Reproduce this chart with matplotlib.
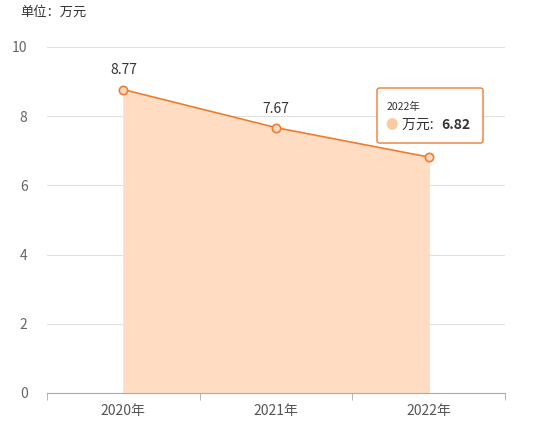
import matplotlib
matplotlib.use("Agg")
import matplotlib.pyplot as plt
from matplotlib.patches import FancyBboxPatch

plt.rcParams['font.family'] = ['Noto Sans CJK SC', 'DejaVu Sans']

categories = ["2020年", "2021年", "2022年"]
values = [8.77, 7.67, 6.82]
yticks = [0, 2, 4, 6, 8, 10]

fig = plt.figure(figsize=(5.37, 4.38), dpi=100)
ax = fig.add_axes([47/537, 45/438, 458/537, 346/438])
x = list(range(len(categories)))
ax.fill_between(x, values, 0, color="#ffdcc2", zorder=2)
ax.plot(x, values, color="#ee7d2f", lw=1.2, zorder=3,
        marker="o", ms=6, mfc="#ffd9bf", mec="#ee7d2f", mew=1.2)
for xi, v in zip(x, values):
    ax.text(xi, v + 0.35, f"{v:.2f}", ha="center", va="bottom", fontsize=10, color="#333333", zorder=4)
ax.set_xlim(-0.5, 2.5)
ax.set_ylim(0, 10)
ax.set_yticks(yticks)
ax.set_yticklabels([str(t) for t in yticks], color="#666666", fontsize=10)
ax.set_xticks(x)
ax.set_xticklabels(categories, color="#555555", fontsize=10)
ax.set_xticks([-0.5, 0.5, 1.5, 2.5], minor=True)
ax.tick_params(axis="x", which="major", length=0, pad=8)
ax.tick_params(axis="x", which="minor", length=5, color="#aaaaaa")
ax.tick_params(axis="y", length=0, pad=14)
ax.grid(axis="y", color="#e0e0e0", lw=0.8, zorder=0)
for s in ["top", "right", "left"]:
    ax.spines[s].set_visible(False)
ax.spines["bottom"].set_color("#aaaaaa")

fig.text(20/537, 1 - 12/438, "单位：万元", fontsize=9.5, color="#333333", va="center")

box = FancyBboxPatch((377/537, 1 - 143/438), 106/537, 55/438,
                     boxstyle="round,pad=0,rounding_size=0.005",
                     transform=fig.transFigure, facecolor="white",
                     edgecolor="#ee7d2f", lw=1, zorder=10)
fig.patches.append(box)
fig.text(387/537, 1 - 107/438, "2022年", fontsize=7.5, color="#333333", va="center", zorder=11)
fig.text(392/537, 1 - 125/438, "●", fontsize=9, color="#ffc9a3", va="center", ha="center", zorder=11)
fig.text(402/537, 1 - 125/438, "万元: ", fontsize=10, color="#333333", va="center", zorder=11)
fig.text(441/537, 1 - 125/438, "6.82", fontsize=10, color="#333333", va="center", fontweight="bold", zorder=11)

fig.savefig("out.png", dpi=100)
